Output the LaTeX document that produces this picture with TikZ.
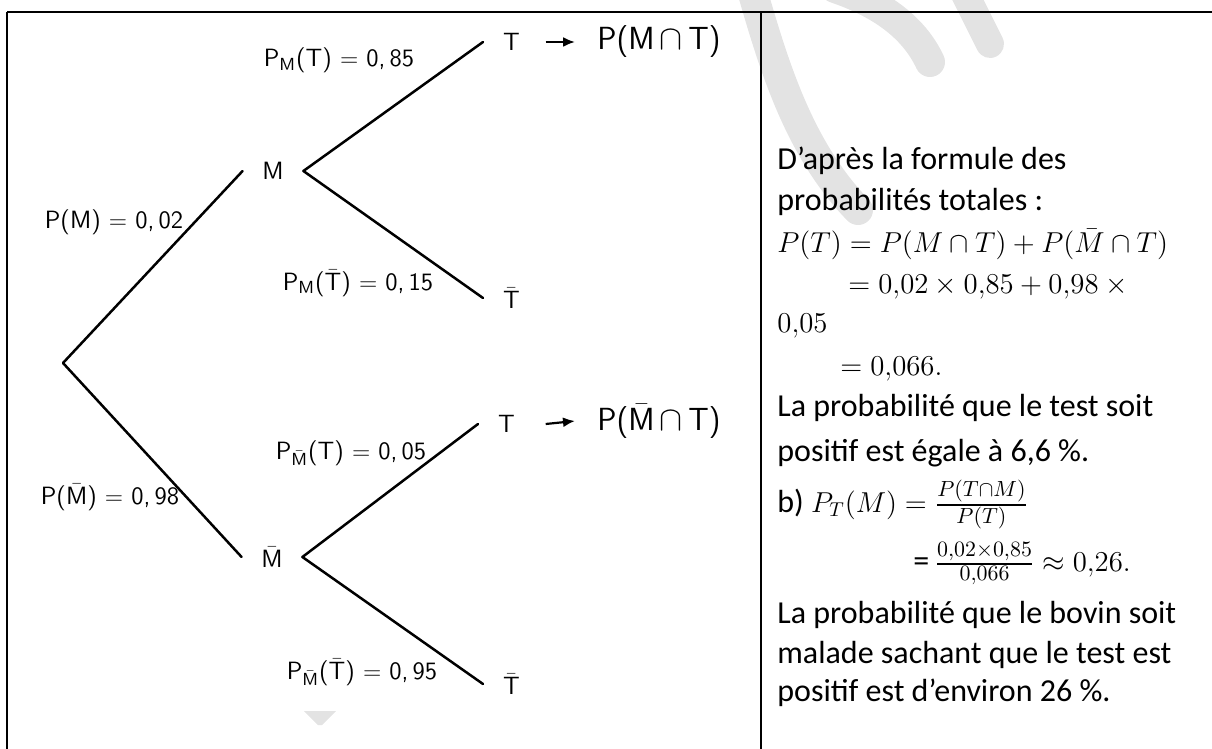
\documentclass[tikz,border=0pt]{standalone}
\usepackage{amsmath}
\usepackage{fontspec}
\newfontfamily\rtext{Carlito}
\newcommand\mymath[1]{{\fontsize{14}{16}\selectfont$#1$}}
\newcommand\fracpart[1]{\text{\fontsize{10.5}{12}\selectfont$#1$}}
\newcommand\myfrac[2]{\genfrac{}{}{0.9pt}{}{\fracpart{#1}}{\fracpart{#2}}}
\usetikzlibrary{arrows.meta}
\tikzset{
  branch/.style={line width=1.25pt, line cap=round},
  lbl/.style={font=\fontsize{12.5}{14}\selectfont\sffamily, inner sep=0pt},
  ev/.style={lbl, minimum width=30pt},
  leaf/.style={lbl, anchor=west, inner xsep=#1},
  big/.style={font=\fontsize{16}{18}\selectfont\sffamily, inner sep=0pt, anchor=west},
  res/.style={line width=1.1pt, -{Latex[length=6pt,width=5pt]}},
  rt/.style={font=\fontsize{16}{18}\selectfont\rtext, inner sep=0pt, anchor=base west},
  frame/.style={line width=1pt},
  wm/.style={draw=black!11, line cap=round},
}
\begin{document}
\begin{tikzpicture}[x=0.5pt,y=-0.5pt]
\useasboundingbox (0,0) rectangle (1212,749);
% faint watermark
\draw[wm, line width=15pt] (752,-10) .. controls (775,70) and (800,150) .. (858,210);
\draw[wm, line width=15pt] (835,-12) .. controls (885,5) and (915,30) .. (930,62);
\draw[wm, line width=14pt] (962,-12) -- (990,44);
\fill[black!11] (304,711) -- (336,711) -- (322,725) -- (318,725) -- cycle;
% frame
\coordinate (tl) at (7,12);
\coordinate (tr) at (1212,12);
\coordinate (bl) at (7,749);
\coordinate (tm) at (761,12);
\coordinate (bm) at (761,749);
\draw[frame] (tl) -- (tr);
\draw[frame] (tl) -- (bl);
\draw[frame] (tm) -- (bm);
% tree
\coordinate (R) at (63,363);
\node[ev] (M) at (273,171) {M};
\node[ev] (Mb) at (272,557) {$\bar{\textsf{M}}$};
\node[leaf=9.8pt] (T1) at (483,42) {T};
\node[leaf=9.8pt] (Tb1) at (483,298) {$\bar{\textsf{T}}$};
\node[leaf=9.8pt] (T2) at (478,424) {T};
\node[leaf=9.8pt] (Tb2) at (483,684) {$\bar{\textsf{T}}$};
\draw[branch] (R) -- (M.west);
\draw[branch] (R) -- (Mb.west);
\draw[branch] (M.east) -- (T1.west);
\draw[branch] (M.east) -- (Tb1.west);
\draw[branch] (Mb.east) -- (T2.west);
\draw[branch] (Mb.east) -- (Tb2.west);
% results
\node[big] (PMT) at (597,42) {P(M\,$\cap$\,T)};
\node[big] (PMbT) at (597,421) {P($\bar{\textsf{M}}$\,$\cap$\,T)};
\draw[res] ([xshift=3pt]T1.east) -- ([xshift=-11pt]PMT.west);
\draw[res] ([xshift=5.5pt]T2.east) -- ([xshift=-11pt]PMbT.west);
% branch labels
\node[lbl] (l1) at (114,222) {P(M) $=$ 0,\,02};
\node[lbl] (l2) at (110,497) {P($\bar{\textsf{M}}$) $=$ 0,\,98};
\node[lbl] (l3) at (339,60) {P$_{\textsf{M}}$(T) $=$ 0,\,85};
\node[lbl] (l4) at (358,283) {P$_{\textsf{M}}$($\bar{\textsf{T}}$) $=$ 0,\,15};
\node[lbl] (l5) at (351,453) {P$_{\bar{\textsf{M}}}$(T) $=$ 0,\,05};
\node[lbl] (l6) at (362,672) {P$_{\bar{\textsf{M}}}$($\bar{\textsf{T}}$) $=$ 0,\,95};
% right column
\node[rt] (r1) at (777,170) {D’après la formule des};
\node[rt] (r2) at (777,211) {probabilités totales :};
\node[rt] (r3) at (777,253) {\mymath{P(T)=P(M\cap T)+P(\bar{M}\cap T)}};
\node[rt] (r4) at (848,293) {\mymath{=0{,}02\times 0{,}85+0{,}98\times{}}};
\node[rt] (r5) at (777,333) {\mymath{0{,}05}};
\node[rt] (r6) at (840,375) {\mymath{=0{,}066.}};
\node[rt] (r7) at (777,416) {La probabilité que le test soit};
\node[rt] (r8) at (777,461) {positif est égale à 6,6 \%.};
\node[rt] (r9) at (777,512) {b) \mymath{P_T(M)=\myfrac{P(T{\cap}M)}{P(T)}}};
\node[rt] (r10) at (913,571) {=\,\mymath{\myfrac{0{,}02{\times}0{,}85}{0{,}066}\approx 0{,}26.}};
\node[rt] (r11) at (777,623) {La probabilité que le bovin soit};
\node[rt] (r12) at (777,663) {malade sachant que le test est};
\node[rt] (r13) at (777,701) {positif est d’environ 26 \%.};
\end{tikzpicture}
\end{document}
